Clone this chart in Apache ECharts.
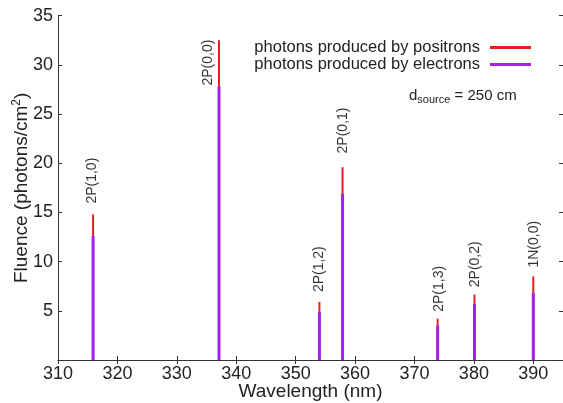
<!DOCTYPE html>
<html>
<head>
<meta charset="utf-8">
<script src="https://cdn.jsdelivr.net/npm/echarts@6/dist/echarts.min.js"></script>
<style>html,body{margin:0;padding:0;background:#fff}#c{width:563px;height:403px}</style>
</head>
<body>
<div id="c"></div>
<script>
// Data
const wavelengths = [315.9, 337.1, 354.0, 357.9, 373.9, 380.1, 390.0];
const positrons   = [14.8, 32.5, 5.9, 19.6, 4.2, 6.65, 8.5];
const electrons   = [12.6, 27.8, 4.9, 16.9, 3.5, 5.7, 6.8];
const bandNames   = ['2P(1,0)', '2P(0,0)', '2P(1,2)', '2P(0,1)', '2P(1,3)', '2P(0,2)', '1N(0,0)'];
const labelX      = [315.8, 335.2, 353.9, 358.0, 374.1, 380.2, 390.1];
const labelY      = [15.9, 27.9, 6.9, 21.0, 4.9, 7.4, 9.4];
const xTicks = [310, 320, 330, 340, 350, 360, 370, 380, 390];
const yTicks = [5, 10, 15, 20, 25, 30, 35];

const RED = '#e3211f', PURPLE = '#a321ec';

function spike(width) {
  return function (params, api) {
    const x = api.value(0), y = api.value(1);
    const p0 = api.coord([x, 0]);
    const p1 = api.coord([x, y]);
    return {
      type: 'rect',
      shape: { x: p0[0] - width / 2, y: p1[1], width: width, height: p0[1] - p1[1] },
      style: { fill: api.visual('color') }
    };
  };
}

const chart = echarts.init(document.getElementById('c'), null, { renderer: 'canvas' });
const axisLine = { show: true, lineStyle: { color: '#333', width: 1 } };
const font = 'Liberation Sans, Arial, sans-serif';

chart.setOption({
  backgroundColor: '#fff',
  animation: false,
  grid: { left: 58, right: 0, top: 15.7, bottom: 43, outerBoundsMode: 'none', containLabel: false },
  legend: {
    orient: 'vertical',
    right: 27,
    top: 34,
    align: 'right',
    icon: 'rect',
    itemWidth: 41,
    itemHeight: 3,
    itemGap: 0,
    selectedMode: false,
    textStyle: { fontFamily: font, fontSize: 16.5, color: '#222', lineHeight: 16.5, padding: [0, 5, 0, 0] },
    data: ['photons produced by positrons', 'photons produced by electrons']
  },
  xAxis: [{
    type: 'value', min: 310, max: 395, interval: 10,
    name: 'Wavelength (nm)', nameLocation: 'middle', nameGap: 22, nameMoveOverlap: false,
    nameTextStyle: { fontFamily: font, fontSize: 19, color: '#222' },
    axisLine: axisLine,
    axisTick: { show: true, inside: true, length: 4, lineStyle: { color: '#333' } },
    axisLabel: { fontFamily: font, fontSize: 18, color: '#222', margin: 5,
      formatter: v => xTicks.indexOf(v) >= 0 ? String(v) : '' },
    splitLine: { show: false }
  }, {
    type: 'value', min: 310, max: 395, interval: 10, position: 'top',
    axisLine: axisLine,
    axisTick: { show: true, inside: true, length: 4, lineStyle: { color: '#333' } },
    axisLabel: { show: false }, splitLine: { show: false }
  }],
  yAxis: [{
    type: 'value', min: 0, max: 35, interval: 5,
    name: 'Fluence (photons/cm{sup|2})', nameLocation: 'middle', nameGap: 26, nameMoveOverlap: false,
    nameTextStyle: { fontFamily: font, fontSize: 19, color: '#222',
      rich: { sup: { fontFamily: font, fontSize: 12, color: '#222', padding: [0, 0, 9, 0] } } },
    axisLine: axisLine,
    axisTick: { show: true, inside: true, length: 4, lineStyle: { color: '#333' } },
    axisLabel: { fontFamily: font, fontSize: 18, color: '#222', margin: 5,
      formatter: v => yTicks.indexOf(v) >= 0 ? String(v) : '' },
    splitLine: { show: false }
  }, {
    type: 'value', min: 0, max: 35, interval: 5, position: 'right',
    axisLine: axisLine,
    axisTick: { show: true, inside: true, length: 4, lineStyle: { color: '#333' } },
    axisLabel: { show: false }, splitLine: { show: false }
  }],
  series: [{
    name: 'photons produced by positrons',
    type: 'custom',
    renderItem: spike(2),
    itemStyle: { color: RED },
    data: wavelengths.map((w, i) => [w, positrons[i]]),
    z: 2
  }, {
    name: 'photons produced by electrons',
    type: 'custom',
    renderItem: spike(3),
    itemStyle: { color: PURPLE },
    data: wavelengths.map((w, i) => [w, electrons[i]]),
    z: 3
  }, {
    name: 'bands',
    type: 'scatter',
    symbolSize: 0,
    silent: true,
    data: labelX.map((x, i) => ({ value: [x, labelY[i]], name: bandNames[i] })),
    label: {
      show: true, position: 'inside', rotate: 90, align: 'left', verticalAlign: 'middle',
      formatter: p => p.name,
      fontFamily: font, fontSize: 14, color: '#000'
    },
    z: 4
  }],
  graphic: [{
    type: 'text',
    left: 409, top: 88,
    style: {
      text: 'd{sub|source} = 250 cm',
      fontFamily: font, fontSize: 15, fill: '#222',
      rich: { sub: { fontFamily: font, fontSize: 11, fill: '#222', padding: [8, 0, 0, 0] } }
    }
  }]
});
</script>
</body>
</html>
